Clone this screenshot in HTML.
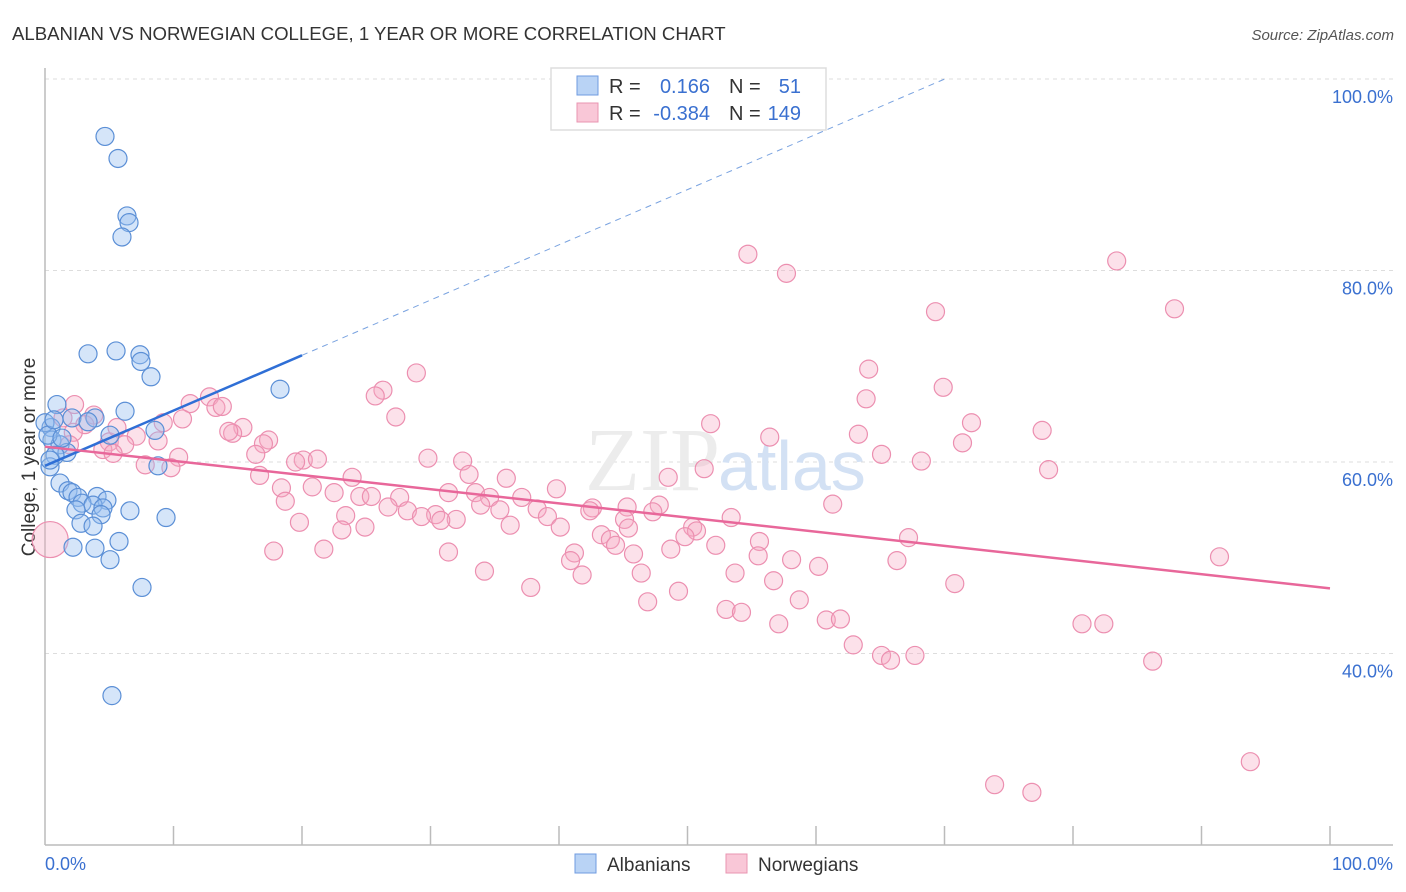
<!DOCTYPE html>
<html><head><meta charset="utf-8"><style>
body{margin:0;background:#fff;font-family:"Liberation Sans",sans-serif;}
svg{display:block}
</style></head><body>
<svg id="chart" width="1406" height="892" viewBox="0 0 1406 892">
<text x="12" y="40" font-size="18.6" fill="#333">ALBANIAN VS NORWEGIAN COLLEGE, 1 YEAR OR MORE CORRELATION CHART</text>
<text x="1394" y="40" font-size="15" fill="#555" font-style="italic" text-anchor="end">Source: ZipAtlas.com</text>
<text x="35" y="457" font-size="19" fill="#333" text-anchor="middle" transform="rotate(-90 35 457)">College, 1 year or more</text>
<g id="grid"></g>
<text x="720" y="490" font-size="90" fill="#ececec" text-anchor="end" font-family="Liberation Serif,serif">ZIP</text>
<text x="718" y="490" font-size="70" fill="#d3e1f4">atlas</text>
<g id="marks"></g>
<g>
<rect x="551" y="68" width="275" height="62" fill="#fff" stroke="#ddd" stroke-width="1.5"/>
<rect x="577" y="76" width="21" height="19" fill="#b9d3f5" stroke="#6f9be0"/>
<rect x="577" y="103" width="21" height="19" fill="#f9c7d7" stroke="#e994b2"/>
<text x="609" y="93" font-size="20" fill="#333">R =</text>
<text x="710" y="93" font-size="20" fill="#3a70d0" text-anchor="end">0.166</text>
<text x="729" y="93" font-size="20" fill="#333">N =</text>
<text x="801" y="93" font-size="20" fill="#3a70d0" text-anchor="end">51</text>
<text x="609" y="120" font-size="20" fill="#333">R =</text>
<text x="710" y="120" font-size="20" fill="#3a70d0" text-anchor="end">-0.384</text>
<text x="729" y="120" font-size="20" fill="#333">N =</text>
<text x="801" y="120" font-size="20" fill="#3a70d0" text-anchor="end">149</text>
</g>
<g>
<rect x="575" y="854" width="21" height="19" fill="#b9d3f5" stroke="#6f9be0"/>
<text x="607" y="871" font-size="19" fill="#333">Albanians</text>
<rect x="726" y="854" width="21" height="19" fill="#f9c7d7" stroke="#e994b2"/>
<text x="758" y="871" font-size="19" fill="#333">Norwegians</text>
</g>
</svg>
<script>
const yTicks=[40,60,80,100];
const yTickLabels=["40.0%","60.0%","80.0%","100.0%"];
const xTickLabels=["0.0%","100.0%"];
const blueX=[4.67,5.68,6.38,6.54,5.99,3.35,5.53,7.39,7.47,8.25,18.29,0.93,6.23,2.10,3.89,3.35,0.47,8.56,5.06,0.54,1.17,1.71,0.78,0.39,8.79,1.17,1.79,2.10,2.57,4.05,4.82,2.88,3.74,2.41,6.61,4.51,4.36,9.42,2.80,3.74,5.76,2.18,3.89,5.06,7.55,5.21,0,0.23,0.70,1.32,0.39];
const blueY=[94.0,91.7,85.7,85.0,83.5,71.3,71.6,71.2,70.5,68.9,67.6,66.0,65.3,64.6,64.6,64.2,63.6,63.3,62.8,62.3,61.8,61.0,60.7,59.5,59.6,57.8,57.0,56.8,56.3,56.4,56.0,55.7,55.5,55.0,54.9,55.2,54.5,54.2,53.6,53.3,51.7,51.1,51.0,49.8,46.9,35.6,64.1,62.8,64.4,62.5,60.2];
const pinkX=[54.7,57.7,83.4,87.9,69.3,64.1,28.9,26.3,25.7,69.9,63.9,12.8,11.3,13.3,13.8,27.3,10.7,9.2,51.8,72.1,77.6,63.3,56.4,15.4,14.6,17.4,17.0,14.3,7.1,5.0,6.2,4.5,5.3,8.8,10.4,16.4,65.1,71.4,29.8,20.1,21.2,19.5,32.5,51.3,68.2,78.1,7.8,9.8,16.7,23.9,33.0,35.9,48.5,18.4,20.8,22.5,24.5,25.4,27.6,31.4,33.5,34.6,37.1,39.8,42.6,18.7,26.7,28.2,30.4,32.0,33.9,35.4,38.3,39.1,40.1,45.3,47.8,19.8,23.4,23.1,24.9,29.3,30.8,36.2,42.4,45.1,45.4,47.3,50.4,50.7,53.4,61.3,43.3,44.0,44.4,49.8,48.7,52.2,55.6,41.2,45.8,67.2,17.8,21.7,31.4,40.9,58.1,55.5,60.2,66.3,91.4,34.2,41.8,46.4,53.7,37.8,49.3,56.7,70.8,46.9,58.7,53.0,54.2,60.8,61.9,57.1,80.7,82.4,62.9,65.1,65.8,67.7,86.2,73.9,76.8,93.8,2.3,1.4,3.8,3.1,2.2,1.9,5.6,0.4];
const pinkY=[81.7,79.7,81.0,76.0,75.7,69.7,69.3,67.5,66.9,67.8,66.6,66.8,66.1,65.7,65.8,64.7,64.5,64.1,64.0,64.1,63.3,62.9,62.6,63.6,63.0,62.3,61.9,63.2,62.7,62.1,61.8,61.3,60.9,62.2,60.5,60.8,60.8,62.0,60.4,60.2,60.3,60.0,60.1,59.3,60.1,59.2,59.7,59.4,58.6,58.4,58.7,58.3,58.4,57.3,57.4,56.8,56.4,56.4,56.3,56.8,56.8,56.3,56.3,57.2,55.2,55.9,55.3,54.9,54.5,54.0,55.5,55.0,55.1,54.3,53.2,55.3,55.5,53.7,54.4,52.9,53.2,54.3,53.9,53.4,54.9,54.0,53.1,54.8,53.2,52.8,54.2,55.6,52.4,51.9,51.3,52.2,50.9,51.3,51.7,50.5,50.4,52.1,50.7,50.9,50.6,49.7,49.8,50.2,49.1,49.7,50.1,48.6,48.2,48.4,48.4,46.9,46.5,47.6,47.3,45.4,45.6,44.6,44.3,43.5,43.6,43.1,43.1,43.1,40.9,39.8,39.3,39.8,39.2,26.3,25.5,28.7,66.0,64.6,64.9,63.9,63.1,61.8,63.6,51.9];
const pinkR=[];pinkR[pinkX.length-1]=18;
const blueTrend=[59.6,0.577];
const pinkTrend=[61.6,-0.148];
const NS="http://www.w3.org/2000/svg";
const X0=45,X1=1330,Y0=845,YT=79;
function sx(v){return X0+(X1-X0)*v/100;}
function sy(v){return Y0-(Y0-YT)*(v-20)/80;}
function mk(tag,attrs,parent){const e=document.createElementNS(NS,tag);for(const k in attrs)e.setAttribute(k,attrs[k]);parent.appendChild(e);return e;}
const grid=document.getElementById('grid'),marks=document.getElementById('marks');
yTicks.forEach((t,i)=>{
 const l=mk('line',{x1:X0,x2:1393,y1:sy(t),y2:sy(t),stroke:'#ddd','stroke-dasharray':'4 4'},grid);
 
 
 const tx=mk('text',{x:1393,y:sy(t)+24,'font-size':18,fill:'#3a70d0','text-anchor':'end'},grid);
 tx.textContent=yTickLabels[i];
 
 
});
const ax=mk('line',{x1:X0,x2:X0,y1:68,y2:Y0,stroke:'#bbb','stroke-width':1.5},grid);


const bx=mk('line',{x1:X0,x2:1393,y1:Y0,y2:Y0,stroke:'#bbb','stroke-width':1.5},grid);


for(let i=1;i<=10;i++){const t=mk('line',{x1:sx(i*10),x2:sx(i*10),y1:826,y2:Y0,stroke:'#bbb','stroke-width':1.5},grid);
 
 }
[[X0,'start',0],[1393,'end',1]].forEach(a=>{const t=mk('text',{x:a[0],y:870,'font-size':18,fill:'#3a70d0','text-anchor':a[1]},grid);t.textContent=xTickLabels[a[2]];
 
 });
pinkX.forEach((x,i)=>{const c=mk('circle',{cx:sx(x),cy:sy(pinkY[i]),r:pinkR[i]||9,fill:'rgba(245,170,195,0.35)',stroke:'#ec8fb0','stroke-width':1.2},marks);
 
 });
blueX.forEach((x,i)=>{const c=mk('circle',{cx:sx(x),cy:sy(blueY[i]),r:9,fill:'rgba(150,190,240,0.4)',stroke:'#5b8fd6','stroke-width':1.2},marks);
 
 });
const bEnd=(100-blueTrend[0])/blueTrend[1];
const bd=mk('line',{x1:sx(20),y1:sy(blueTrend[0]+20*blueTrend[1]),x2:sx(bEnd),y2:sy(100),stroke:'#7aa3e0','stroke-dasharray':'6 5','stroke-width':1},marks);


const bl=mk('line',{x1:sx(0),y1:sy(blueTrend[0]),x2:sx(20),y2:sy(blueTrend[0]+20*blueTrend[1]),stroke:'#2f6fd6','stroke-width':2.5},marks);


const pl=mk('line',{x1:sx(0),y1:sy(pinkTrend[0]),x2:sx(100),y2:sy(pinkTrend[0]+100*pinkTrend[1]),stroke:'#e8679a','stroke-width':2.5},marks);


</script>
</body></html>
